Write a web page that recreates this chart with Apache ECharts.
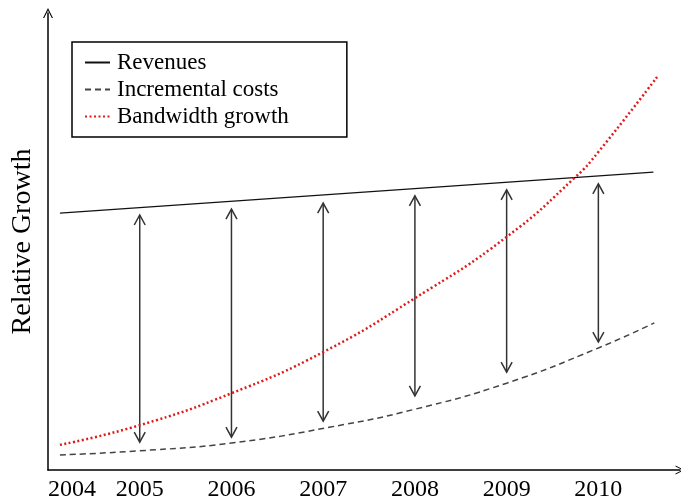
<!DOCTYPE html>
<html>
<head>
<meta charset="utf-8">
<script src="https://cdn.jsdelivr.net/npm/echarts@6/dist/echarts.min.js"></script>
<style>
  html, body { margin: 0; padding: 0; background: #fff; }
  #chart { width: 681px; height: 500px; }
</style>
</head>
<body>
<div id="chart"></div>
<script>
// x positions are years, y is relative growth on a 0..100 scale
const revenueYears = [2004.13, 2010.6]
const revenueValues = [56.2, 65.2]

const costYears = [2004.13, 2005, 2006, 2007.08, 2008, 2009, 2010, 2010.61]
const costValues = [3.3, 4.2, 5.9, 9.4, 13.3, 19.0, 26.7, 32.2]

const bandwidthYears = [2004.13, 2005, 2006, 2007, 2008, 2009, 2009.75, 2010, 2010.64]
const bandwidthValues = [5.5, 9.8, 16.8, 25.8, 37.6, 51.0, 64.1, 69.6, 86.0]

// double arrows: year, top, bottom
const arrowYears = [2005, 2006, 2007, 2008, 2009, 2010]
const arrowTops = [55.8, 57.1, 58.4, 60.0, 61.3, 62.6]
const arrowBottoms = [6.1, 7.2, 10.7, 16.2, 21.4, 28.0]

const seriesNames = ['Revenues', 'Incremental costs', 'Bandwidth growth']

const zip = (xs, ys) => xs.map((x, i) => [x, ys[i]])
const FONT = 'Liberation Serif'
const chevron = 'path://M0,10 L5,0 L10,10 L8.8,10 L5,2.4 L1.2,10 Z'

const chart = echarts.init(document.getElementById('chart'))

const arrowItem = (params, api) => {
  const x = api.value(0)
  const top = api.coord([x, api.value(1)])
  const bot = api.coord([x, api.value(2)])
  const style = { stroke: '#333', lineWidth: 1.5, fill: null }
  return {
    type: 'group',
    children: [
      { type: 'line', shape: { x1: top[0], y1: top[1], x2: bot[0], y2: bot[1] }, style },
      {
        type: 'polyline',
        shape: { points: [[top[0] - 5.5, top[1] + 10], [top[0], top[1]], [top[0] + 5.5, top[1] + 10]] },
        style
      },
      {
        type: 'polyline',
        shape: { points: [[bot[0] - 5.5, bot[1] - 10], [bot[0], bot[1]], [bot[0] + 5.5, bot[1] - 10]] },
        style
      }
    ]
  }
}

const option = {
  backgroundColor: '#fff',
  animation: false,
  grid: { left: 48, right: 1, top: 13, bottom: 30, containLabel: false, outerBoundsMode: 'none' },
  legend: {
    data: seriesNames,
    orient: 'vertical',
    left: 72,
    top: 42,
    padding: [9, 58, 9, 12],
    itemGap: 4,
    itemWidth: 25,
    itemHeight: 14,
    borderColor: '#000',
    borderWidth: 1.5,
    itemStyle: { opacity: 0 },
    textStyle: { fontFamily: FONT, fontSize: 23, color: '#000', padding: [0, 0, 0, 2] }
  },
  xAxis: {
    type: 'value',
    min: 2004,
    max: 2010.89,
    interval: 1,
    splitLine: { show: false },
    axisTick: { show: false },
    axisLine: {
      lineStyle: { color: '#000', width: 1.5 },
      symbol: ['none', chevron],
      symbolSize: [11, 9]
    },
    axisLabel: {
      color: '#000',
      fontFamily: FONT,
      fontSize: 24,
      margin: 8,
      showMaxLabel: false,
      alignMinLabel: 'left',
      formatter: v => String(v)
    }
  },
  yAxis: {
    type: 'value',
    min: 0,
    max: 100,
    name: 'Relative Growth',
    nameLocation: 'middle',
    nameRotate: 90,
    nameGap: 11,
    nameTextStyle: { fontFamily: FONT, fontSize: 28, color: '#000' },
    splitLine: { show: false },
    axisTick: { show: false },
    axisLabel: { show: false },
    axisLine: {
      lineStyle: { color: '#000', width: 1.5 },
      symbol: ['none', chevron],
      symbolSize: [12, 10]
    }
  },
  series: [
    {
      name: seriesNames[0],
      type: 'line',
      symbol: 'none',
      data: zip(revenueYears, revenueValues),
      lineStyle: { color: '#111', width: 1.3, type: 'solid' },
      itemStyle: { color: '#111' }
    },
    {
      name: seriesNames[1],
      type: 'line',
      symbol: 'none',
      smooth: true,
      data: zip(costYears, costValues),
      lineStyle: { color: '#444', width: 1.5, type: [6, 4] },
      itemStyle: { color: '#444' }
    },
    {
      name: seriesNames[2],
      type: 'line',
      symbol: 'none',
      smooth: true,
      data: zip(bandwidthYears, bandwidthValues),
      lineStyle: { color: '#e01b1b', width: 2.5, type: [2, 2.5] },
      itemStyle: { color: '#e01b1b' }
    },
    {
      name: 'gap',
      type: 'custom',
      renderItem: arrowItem,
      encode: { x: 0, y: [1, 2] },
      data: arrowYears.map((y, i) => [y, arrowTops[i], arrowBottoms[i]]),
      z: 1
    }
  ]
}

chart.setOption(option)
</script>
</body>
</html>
